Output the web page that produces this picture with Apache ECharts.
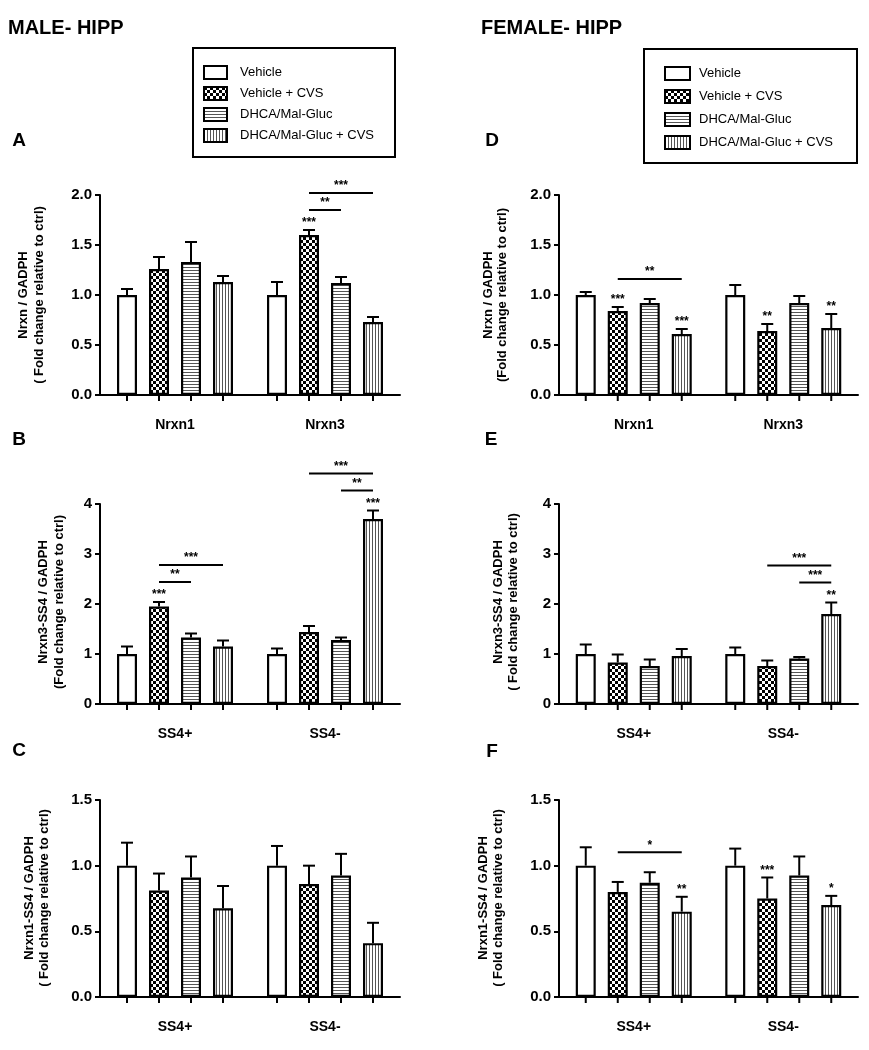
<!DOCTYPE html>
<html>
<head>
<meta charset="utf-8">
<script src="https://cdn.jsdelivr.net/npm/echarts@6/dist/echarts.min.js"></script>
<style>html,body{margin:0;padding:0;background:#fff}#c{width:869px;height:1050px}</style>
</head>
<body>
<div id="c"></div>
<script>
// ---------- DATA ----------
const treatments = ['Vehicle', 'Vehicle + CVS', 'DHCA/Mal-Gluc', 'DHCA/Mal-Gluc + CVS'];
const nrxnCats = ['Nrxn1', 'Nrxn3'];
const ss4Cats = ['SS4+', 'SS4-'];

// each row = one treatment, columns = [first category, second category]
// A: MALE Nrxn / GADPH
const aMean = [[1.00, 1.00], [1.26, 1.60], [1.33, 1.12], [1.13, 0.73]];
const aSem  = [[0.06, 0.13], [0.12, 0.05], [0.20, 0.06], [0.06, 0.05]];
// B: MALE Nrxn3-SS4 / GADPH
const bMean = [[1.00, 1.00], [1.95, 1.44], [1.33, 1.28], [1.15, 3.70]];
const bSem  = [[0.15, 0.11], [0.09, 0.12], [0.08, 0.05], [0.12, 0.17]];
// C: MALE Nrxn1-SS4 / GADPH
const cMean = [[1.00, 1.00], [0.81, 0.86], [0.91, 0.925], [0.675, 0.41]];
const cSem  = [[0.175, 0.15], [0.13, 0.14], [0.16, 0.165], [0.17, 0.155]];
// D: FEMALE Nrxn / GADPH
const dMean = [[1.00, 1.00], [0.84, 0.64], [0.92, 0.92], [0.61, 0.67]];
const dSem  = [[0.03, 0.10], [0.04, 0.07], [0.04, 0.07], [0.05, 0.14]];
// E: FEMALE Nrxn3-SS4 / GADPH
const eMean = [[1.00, 1.00], [0.83, 0.76], [0.76, 0.91], [0.96, 1.80]];
const eSem  = [[0.19, 0.13], [0.16, 0.11], [0.13, 0.03], [0.14, 0.23]];
// F: FEMALE Nrxn1-SS4 / GADPH
const fMean = [[1.00, 1.00], [0.80, 0.75], [0.87, 0.925], [0.65, 0.70]];
const fSem  = [[0.14, 0.13], [0.076, 0.16], [0.08, 0.145], [0.113, 0.07]];

// significance: stars [category, treatment, text]; brackets [category, fromTreatment, toTreatment, level, text]
const aStars = [[1, 1, '***']];
const aBrackets = [[1, 1, 2, 0, '**'], [1, 1, 3, 1, '***']];
const bStars = [[0, 1, '***'], [1, 3, '***']];
const bBrackets = [[0, 1, 2, 0, '**'], [0, 1, 3, 1, '***'], [1, 2, 3, 0, '**'], [1, 1, 3, 1, '***']];
const cStars = [];
const cBrackets = [];
const dStars = [[0, 1, '***'], [0, 3, '***'], [1, 1, '**'], [1, 3, '**']];
const dBrackets = [[0, 1, 3, 0, '**']];
const eStars = [[1, 3, '**']];
const eBrackets = [[1, 2, 3, 0, '***'], [1, 1, 3, 1, '***']];
const fStars = [[0, 3, '**'], [1, 1, '***'], [1, 3, '*']];
const fBrackets = [[0, 1, 3, 0, '*']];

// ---------- STYLE / LAYOUT ----------
const FONT = '"Liberation Sans", Arial, Helvetica, sans-serif';
const BAR_STEP = 32;

function makePattern(kind) {
  const c = document.createElement('canvas');
  const ctx = c.getContext('2d');
  if (kind === 'plain') {
    c.width = 4; c.height = 4;
    ctx.fillStyle = '#fff'; ctx.fillRect(0, 0, 4, 4);
  } else if (kind === 'check') {
    c.width = 6; c.height = 6;
    ctx.fillStyle = '#fff'; ctx.fillRect(0, 0, 6, 6);
    ctx.fillStyle = '#000'; ctx.fillRect(0, 0, 3, 3); ctx.fillRect(3, 3, 3, 3);
  } else if (kind === 'h') {
    c.width = 4; c.height = 3;
    ctx.fillStyle = '#fff'; ctx.fillRect(0, 0, 4, 3);
    ctx.fillStyle = '#555'; ctx.fillRect(0, 0, 4, 1);
  } else {
    c.width = 3; c.height = 4;
    ctx.fillStyle = '#fff'; ctx.fillRect(0, 0, 3, 4);
    ctx.fillStyle = '#555'; ctx.fillRect(0, 0, 1, 4);
  }
  return { image: c, repeat: 'repeat' };
}
const patterns = [makePattern('plain'), makePattern('check'), makePattern('h'), makePattern('v')];

const panels = [
  { letter: 'A', cats: nrxnCats, mean: aMean, sem: aSem, stars: aStars, brackets: aBrackets, max: 2, interval: 0.5, dec: 1,
    grid: { left: 100, top: 195, width: 300, height: 200 }, title: ['Nrxn / GADPH', '( Fold change relative to ctrl)'], tx: [23, 39], ty: 295, lx: 19, ly: 141 },
  { letter: 'B', cats: ss4Cats, mean: bMean, sem: bSem, stars: bStars, brackets: bBrackets, max: 4, interval: 1, dec: 0,
    grid: { left: 100, top: 504, width: 300, height: 200 }, title: ['Nrxn3-SS4 / GADPH', '(Fold change relative to ctrl)'], tx: [43, 59], ty: 602, lx: 19, ly: 440 },
  { letter: 'C', cats: ss4Cats, mean: cMean, sem: cSem, stars: cStars, brackets: cBrackets, max: 1.5, interval: 0.5, dec: 1,
    grid: { left: 100, top: 800, width: 300, height: 197 }, title: ['Nrxn1-SS4 / GADPH', '( Fold change relative to ctrl)'], tx: [29, 44], ty: 898, lx: 19, ly: 751 },
  { letter: 'D', cats: nrxnCats, mean: dMean, sem: dSem, stars: dStars, brackets: dBrackets, max: 2, interval: 0.5, dec: 1,
    grid: { left: 559, top: 195, width: 299, height: 200 }, title: ['Nrxn / GADPH', '(Fold change relative to ctrl)'], tx: [488, 502], ty: 295, lx: 492, ly: 141 },
  { letter: 'E', cats: ss4Cats, mean: eMean, sem: eSem, stars: eStars, brackets: eBrackets, max: 4, interval: 1, dec: 0,
    grid: { left: 559, top: 504, width: 299, height: 200 }, title: ['Nrxn3-SS4 / GADPH', '( Fold change relative to ctrl)'], tx: [498, 513], ty: 602, lx: 491, ly: 440 },
  { letter: 'F', cats: ss4Cats, mean: fMean, sem: fSem, stars: fStars, brackets: fBrackets, max: 1.5, interval: 0.5, dec: 1,
    grid: { left: 559, top: 800, width: 299, height: 197 }, title: ['Nrxn1-SS4 / GADPH', '( Fold change relative to ctrl)'], tx: [483, 498], ty: 898, lx: 492, ly: 752 }
];

const grids = [], xAxes = [], yAxes = [], series = [], graphics = [];

graphics.push({ type: 'text', x: 8, y: 28, style: { text: 'MALE- HIPP', font: 'bold 20px ' + FONT, fill: '#000', align: 'left', verticalAlign: 'middle' } });
graphics.push({ type: 'text', x: 481, y: 28, style: { text: 'FEMALE- HIPP', font: 'bold 20px ' + FONT, fill: '#000', align: 'left', verticalAlign: 'middle' } });

panels.forEach((p, i) => {
  grids.push(Object.assign({ containLabel: false }, p.grid));
  xAxes.push({
    gridIndex: i, type: 'category', data: p.cats,
    axisLine: { lineStyle: { color: '#000', width: 2 } },
    axisTick: { show: false },
    axisLabel: { color: '#000', fontWeight: 'bold', fontSize: 14, fontFamily: FONT, margin: 23 }
  });
  yAxes.push({
    gridIndex: i, type: 'value', min: 0, max: p.max, interval: p.interval,
    splitLine: { show: false },
    axisLine: { show: true, lineStyle: { color: '#000', width: 2 } },
    axisTick: { show: true, length: 5, lineStyle: { color: '#000', width: 2 } },
    axisLabel: { color: '#000', fontWeight: 'bold', fontSize: 15, fontFamily: FONT, margin: 8,
      formatter: v => v.toFixed(p.dec) }
  });
  treatments.forEach((name, t) => {
    series.push({
      type: 'bar', name: name, xAxisIndex: i, yAxisIndex: i,
      data: p.mean[t], barWidth: 20, barGap: '60%',
      itemStyle: { color: patterns[t], borderColor: '#000', borderWidth: 2.2 },
      emphasis: { disabled: true }, silent: true, z: 2
    });
  });
  // error bars + per-bar ticks
  const errData = [];
  treatments.forEach((name, t) => p.cats.forEach((c, ci) => errData.push([ci, t, p.mean[t][ci], p.sem[t][ci]])));
  series.push({
    type: 'custom', xAxisIndex: i, yAxisIndex: i, data: errData, encode: { x: 0, y: 2 }, silent: true, clip: false, z: 3,
    renderItem: (params, api) => {
      const ci = api.value(0), t = api.value(1), m = api.value(2), e = api.value(3);
      const base = api.coord([ci, 0]);
      const x = base[0] + (t - 1.5) * BAR_STEP;
      const y0 = base[1];
      const yt = api.coord([ci, m])[1];
      const ye = api.coord([ci, m + e])[1];
      const st = { stroke: '#000', lineWidth: 2 };
      return { type: 'group', children: [
        { type: 'line', shape: { x1: x, y1: yt, x2: x, y2: ye }, style: st },
        { type: 'line', shape: { x1: x - 6, y1: ye, x2: x + 6, y2: ye }, style: st },
        { type: 'line', shape: { x1: x, y1: y0, x2: x, y2: y0 + 6 }, style: st }
      ] };
    }
  });
  // significance annotations
  const annots = p.stars.map(s => ({ kind: 'star', cat: s[0], t: s[1], text: s[2] }))
    .concat(p.brackets.map(b => ({ kind: 'br', cat: b[0], from: b[1], to: b[2], level: b[3], text: b[4] })));
  if (annots.length) {
    series.push({
      type: 'custom', xAxisIndex: i, yAxisIndex: i, data: annots.map(a => [a.cat, 0]), encode: { x: 0, y: 1 },
      silent: true, clip: false, z: 4,
      renderItem: (params, api) => {
        const a = annots[params.dataIndex];
        const bx = (ci, t) => api.coord([ci, 0])[0] + (t - 1.5) * BAR_STEP;
        const et = (ci, t) => api.coord([ci, p.mean[t][ci] + p.sem[t][ci]])[1];
        const font = 'bold 12px ' + FONT;
        if (a.kind === 'star') {
          return { type: 'text', x: bx(a.cat, a.t), y: et(a.cat, a.t) - 1,
            style: { text: a.text, font: font, fill: '#000', align: 'center', verticalAlign: 'bottom' } };
        }
        let top = Infinity;
        for (let t = a.from; t <= a.to; t++) top = Math.min(top, et(a.cat, t));
        const y = top - 20 - 17 * a.level;
        const x1 = bx(a.cat, a.from), x2 = bx(a.cat, a.to);
        return { type: 'group', children: [
          { type: 'line', shape: { x1: x1, y1: y, x2: x2, y2: y }, style: { stroke: '#000', lineWidth: 2 } },
          { type: 'text', x: (x1 + x2) / 2, y: y - 1, style: { text: a.text, font: font, fill: '#000', align: 'center', verticalAlign: 'bottom' } }
        ] };
      }
    });
  }
  // axis titles (two rotated lines) & panel letter
  p.title.forEach((line, k) => {
    graphics.push({ type: 'text', x: p.tx[k], y: p.ty, rotation: Math.PI / 2,
      style: { text: line, font: 'bold 13px ' + FONT, fill: '#000', align: 'center', verticalAlign: 'middle' } });
  });
  graphics.push({ type: 'text', x: p.lx, y: p.ly, style: { text: p.letter, font: 'bold 19px ' + FONT, fill: '#000', align: 'center', verticalAlign: 'middle' } });
});

const legendBase = {
  orient: 'vertical', data: treatments, icon: 'rect', selectedMode: false,
  itemHeight: 13, borderColor: '#000', borderWidth: 2,
  itemStyle: { borderColor: '#000', borderWidth: 2 },
  textStyle: { color: '#000', fontSize: 13, fontFamily: FONT }
};
const legends = [
  Object.assign({}, legendBase, { left: 193, top: 48, itemWidth: 23, itemGap: 6, padding: [17, 21, 14, 10],
    textStyle: Object.assign({}, legendBase.textStyle, { padding: [0, 0, 0, 8] }) }),
  Object.assign({}, legendBase, { left: 644, top: 49, itemWidth: 25, itemGap: 8, padding: [17, 24, 13, 20],
    textStyle: Object.assign({}, legendBase.textStyle, { padding: [0, 0, 0, 4] }) })
];

const chart = echarts.init(document.getElementById('c'), null, { renderer: 'canvas' });
chart.setOption({
  backgroundColor: '#fff',
  animation: false,
  textStyle: { fontFamily: FONT },
  grid: grids, xAxis: xAxes, yAxis: yAxes,
  legend: legends,
  series: series,
  graphic: graphics
});
</script>
</body>
</html>
